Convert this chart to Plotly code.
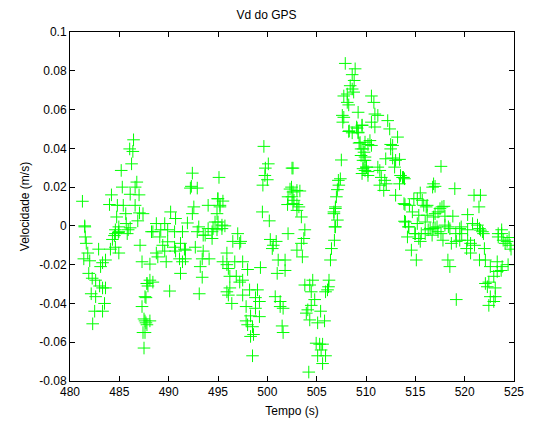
import plotly.graph_objects as go

# Time (s) and vertical velocity (m/s)
t = [
 481.26,481.49,481.5,481.55,481.65,481.4,481.8,482.0,481.9,482.15,482.25,482.3,482.5,482.6,482.6,482.9,483.0,483.1,483.3,483.3,483.3,483.5,483.6,483.6,
 484.0,484.2,484.1,484.3,484.5,484.6,484.6,484.6,484.73,484.8,484.9,484.95,484.95,484.95,485.19,485.3,485.4,485.65,485.7,485.8,485.9,486.05,486.1,486.1,
 486.24,486.37,486.44,486.6,486.6,486.77,486.87,487.0,487.04,487.1,487.3,487.3,487.4,487.4,487.5,487.5,487.6,487.6,487.6,487.7,487.7,487.8,487.8,487.8,
 487.9,488.1,488.1,488.1,488.26,488.4,488.4,488.75,488.75,488.9,489.1,489.2,489.4,489.6,489.6,489.75,489.9,489.9,490.1,490.2,490.6,490.6,490.7,490.7,
 491.1,491.2,491.2,491.4,491.4,491.6,491.7,491.7,491.9,492.2,492.3,492.4,492.4,492.55,492.7,492.9,492.9,493.05,493.1,493.2,493.4,493.4,493.5,493.5,
 493.7,494.0,494.0,494.1,494.4,494.4,494.5,494.7,494.9,494.9,494.97,495.0,495.0,495.1,495.2,495.2,495.4,495.4,495.5,495.5,495.7,495.9,495.9,495.9,
 496.05,496.05,496.2,496.2,496.4,496.5,496.7,496.85,497.0,497.2,497.2,497.3,497.5,497.5,497.5,497.85,497.85,498.0,498.0,498.2,498.3,498.3,498.5,498.5,
 498.6,498.8,498.8,499.0,499.2,499.2,499.3,499.5,499.55,499.65,499.75,499.8,500.0,500.1,500.2,500.3,500.5,500.6,500.8,500.9,501.0,501.1,501.3,501.3,
 501.5,501.6,501.6,501.8,501.8,502.05,502.1,502.1,502.3,502.45,502.5,502.5,502.6,502.6,502.6,502.7,503.0,503.0,503.0,503.0,503.2,503.3,503.45,503.45,
 503.55,503.7,503.8,503.8,503.95,504.1,504.2,504.3,504.3,504.45,504.45,504.6,504.8,504.95,505.1,505.1,505.3,505.4,505.45,505.6,505.6,505.8,505.9,505.9,
 506.1,506.2,506.25,506.4,506.5,506.75,506.75,506.8,506.85,506.9,506.9,506.9,507.0,507.1,507.1,507.2,507.25,507.4,507.5,507.6,507.65,507.75,507.75,507.9,
 508.1,508.1,508.25,508.25,508.3,508.4,508.6,508.6,508.6,508.75,508.8,508.9,509.05,509.1,509.2,509.2,509.2,509.3,509.4,509.5,509.5,509.6,509.6,509.6,
 509.7,509.7,509.7,509.8,509.9,509.9,509.9,509.9,510.05,510.05,510.2,510.2,510.2,510.4,510.55,510.55,510.55,510.8,510.9,510.9,511.2,511.2,511.4,511.4,
 511.55,511.8,511.9,512.0,512.05,512.2,512.4,512.5,512.5,512.7,512.7,512.9,513.0,513.0,513.2,513.4,513.4,513.5,513.7,513.8,513.85,513.9,513.9,513.95,
 514.0,514.2,514.3,514.35,514.4,514.6,514.7,514.85,514.95,515.0,515.1,515.2,515.2,515.35,515.35,515.5,515.5,515.6,515.7,515.85,516.0,516.0,516.1,516.2,
 516.2,516.3,516.5,516.7,516.75,516.8,516.85,516.85,517.0,517.0,517.0,517.2,517.3,517.3,517.5,517.6,517.6,517.7,517.8,517.9,518.0,518.0,518.3,518.35,
 518.5,518.5,518.65,518.8,519.0,519.1,519.15,519.15,519.5,519.5,519.65,519.7,520.2,520.3,520.3,520.3,520.6,520.6,520.8,520.95,521.0,521.3,521.45,521.5,
 521.5,521.6,521.6,521.8,521.9,522.0,522.1,522.1,522.3,522.45,522.45,522.6,522.6,522.95,522.95,523.1,523.1,523.3,523.3,523.4,523.4,523.7,523.75,523.75,
 523.8,523.9,524.1,524.3,524.5,524.6,524.7,524.4,
]
vd = [
 0.0127,0.0,-0.0005,-0.0057,-0.009,-0.017,-0.014,-0.018,-0.0245,-0.035,-0.027,-0.0505,-0.044,-0.028,-0.0365,-0.012,-0.031,-0.021,-0.019,-0.032,-0.044,-0.040,-0.0176,-0.032,
 0.011,0.016,-0.012,-0.007,-0.005,-0.002,-0.011,-0.004,0.0046,0.0106,-0.0034,-0.003,-0.014,-0.0005,0.0286,0.020,0.0106,0.0063,0.0012,-0.004,-0.002,0.0397,0.0163,-0.001,
 0.032,0.0384,0.0444,0.020,0.0106,0.0226,0.0026,0.016,0.0067,-0.010,-0.0185,-0.0416,0.0063,-0.055,-0.048,-0.063,-0.0365,-0.049,-0.055,-0.050,-0.037,-0.0297,-0.0297,-0.051,
 -0.031,-0.0197,-0.028,-0.049,-0.003,-0.003,-0.029,0.0012,-0.014,-0.016,-0.0057,-0.002,-0.010,0.0012,-0.013,-0.0185,-0.002,-0.0082,-0.0336,0.0072,-0.003,-0.011,0.0038,-0.013,
 -0.017,-0.009,-0.0245,-0.003,-0.0185,-0.012,-0.0125,-0.017,0.0015,0.0195,0.0204,0.0272,0.0063,0.0098,-0.011,0.0195,-0.003,-0.0005,-0.035,-0.021,-0.017,-0.0265,-0.0048,-0.013,
 -0.0048,0.0106,-0.0014,-0.017,-0.003,-0.0065,-0.0014,0.002,0.0063,-0.002,0.014,0.014,0.002,0.025,0.0098,0.0106,0.0004,-0.0014,0.0128,-0.0185,0.0,-0.014,-0.020,-0.034,
 -0.022,-0.0357,-0.026,-0.032,-0.040,-0.008,-0.0185,-0.026,-0.004,-0.009,-0.029,-0.008,-0.0185,-0.028,-0.0357,-0.0416,-0.049,-0.0225,-0.051,-0.033,-0.0464,-0.057,-0.052,-0.067,
 -0.056,-0.037,-0.0425,-0.033,-0.0468,-0.039,-0.0215,0.0072,0.021,0.041,0.026,0.0298,0.0238,0.032,0.0026,-0.007,-0.0117,-0.010,-0.0365,-0.008,-0.0245,-0.0176,-0.039,-0.0416,
 -0.0516,-0.0425,-0.055,-0.0176,-0.023,0.011,0.015,-0.004,0.019,0.020,0.015,0.0298,0.0175,0.0115,0.0298,0.0132,0.0183,0.011,0.008,-0.0125,0.0098,0.018,0.0046,-0.009,
 -0.016,-0.0065,-0.002,-0.0305,-0.045,-0.0433,-0.0754,-0.0305,-0.0485,-0.034,-0.041,-0.028,-0.038,-0.0605,-0.050,-0.067,-0.061,-0.044,-0.064,-0.061,-0.071,-0.049,-0.034,-0.067,
 -0.033,-0.0314,-0.028,-0.0176,-0.0117,0.0063,0.0072,-0.0074,-0.0005,0.0098,0.009,-0.0005,0.015,0.0187,0.003,0.0235,0.021,0.0243,0.034,0.057,0.0535,0.056,0.067,0.0838,
 0.068,0.0637,0.0624,0.0487,0.049,0.0723,0.078,0.0706,0.048,0.069,0.075,0.081,0.051,0.0504,0.048,0.0483,0.0586,0.0427,0.043,0.0397,0.0363,0.052,0.0518,0.027,
 0.0397,0.0338,0.0295,0.038,0.0432,0.0355,0.0338,0.0286,0.0303,0.0303,0.042,0.026,0.028,0.044,0.067,0.0535,0.0415,0.0637,0.0577,0.051,0.057,0.0303,0.0286,0.021,
 0.025,0.0183,0.0235,0.0346,0.0217,0.0543,0.050,0.042,0.0397,0.0415,0.035,0.0303,0.0338,0.0158,0.0458,0.0343,0.0217,0.026,0.025,0.025,0.0115,0.0243,0.0024,0.011,
 0.002,-0.0057,-0.0005,-0.0005,0.0106,-0.0125,0.0072,0.014,-0.004,-0.004,-0.0176,0.014,0.0012,0.0055,-0.0065,0.017,-0.008,-0.004,0.0132,0.0106,0.002,-0.004,0.0098,0.0106,
 0.0055,-0.002,-0.0014,-0.0048,0.020,-0.0014,0.0217,0.0046,0.0204,0.0063,-0.001,-0.0005,0.0072,-0.003,0.0089,0.0307,-0.004,0.0098,-0.0074,0.0101,0.005,0.0004,-0.0176,-0.0005,
 -0.021,-0.0014,-0.009,0.005,0.0192,-0.004,-0.008,-0.038,-0.0014,-0.0074,-0.0005,-0.004,-0.0117,-0.002,-0.0074,0.0058,-0.009,-0.014,0.0012,0.0158,-0.010,0.0004,0.0098,-0.0014,
 -0.0176,0.0158,-0.0022,-0.003,-0.004,-0.0117,-0.0176,-0.0297,-0.0314,-0.029,-0.041,-0.021,-0.0365,-0.026,-0.039,-0.032,-0.0365,-0.0185,-0.0235,-0.0057,-0.004,-0.023,-0.002,-0.004,
 -0.021,-0.0074,-0.009,-0.008,-0.006,-0.010,-0.012,-0.020,
]

x_ticks = [480, 485, 490, 495, 500, 505, 510, 515, 520, 525]
y_ticks = [-0.08, -0.06, -0.04, -0.02, 0, 0.02, 0.04, 0.06, 0.08, 0.1]
y_tick_text = ["-0.08", "-0.06", "-0.04", "-0.02", "0", "0.02", "0.04", "0.06", "0.08", "0.1"]

fig = go.Figure()
fig.add_trace(go.Scatter(
    x=t, y=vd, mode="markers",
    marker=dict(symbol="cross-thin", size=9, line=dict(color="rgb(0,255,0)", width=1),
                color="rgb(0,255,0)"),
    showlegend=False,
))

font = dict(family="Liberation Sans, Arial, sans-serif", size=12, color="black")
axis_common = dict(showgrid=False, zeroline=False, showline=True, linecolor="black", linewidth=1,
                   mirror="ticks", ticks="inside", ticklen=5, tickcolor="black", tickwidth=1,
                   tickfont=font, ticklabeloverflow="allow")
fig.update_layout(
    width=533, height=430,
    margin=dict(l=70, r=9, t=32, b=49),
    paper_bgcolor="white", plot_bgcolor="white",
    font=font,
    title=dict(text="Vd do GPS", x=0.5, xanchor="center", y=1 - 15/430, yanchor="middle",
               font=font),
    xaxis=dict(range=[480, 525], tickvals=x_ticks, title=dict(text="Tempo (s)", standoff=8, font=font),
               **axis_common),
    yaxis=dict(range=[-0.08, 0.1], tickvals=y_ticks, ticktext=y_tick_text,
               title=dict(text="Velocidade (m/s)", standoff=7, font=font), **axis_common),
)
fig.write_html("out.html")
